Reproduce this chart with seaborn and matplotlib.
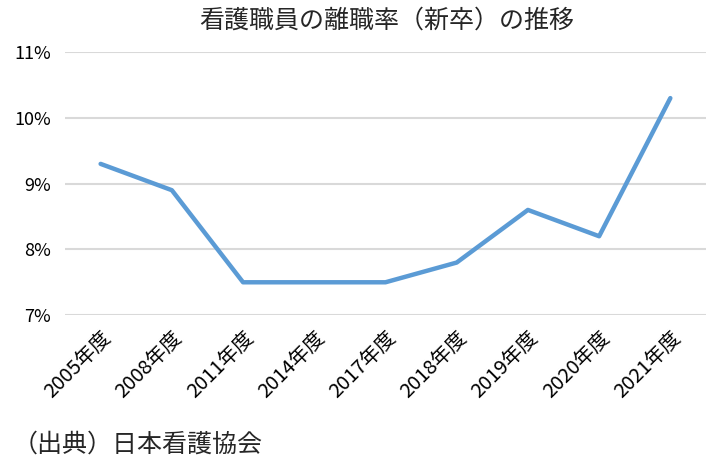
import matplotlib
matplotlib.use("Agg")
import matplotlib.pyplot as plt
import seaborn as sns
import pandas as pd

years = ["2005年度", "2008年度", "2011年度", "2014年度", "2017年度",
         "2018年度", "2019年度", "2020年度", "2021年度"]
rates = [9.3, 8.9, 7.5, 7.5, 7.5, 7.8, 8.6, 8.2, 10.3]
y_ticks = [7, 8, 9, 10, 11]
y_labels = ["7%", "8%", "9%", "10%", "11%"]

sns.set_theme(style="white")
plt.rcParams['font.family'] = ['Noto Sans CJK JP', 'DejaVu Sans']

df = pd.DataFrame({"year": years, "rate": rates})
fig = plt.figure(figsize=(7.09, 4.69), dpi=100)
ax = fig.add_axes([0.0917, 0.328, 0.904, 0.561])

sns.lineplot(data=df, x="year", y="rate", ax=ax, color="#5B9BD5",
             linewidth=3.2, sort=False)

ax.set_xlim(-0.5, len(years) - 0.5)
ax.set_ylim(7, 11)
ax.set_yticks(y_ticks)
ax.set_yticklabels(y_labels, fontsize=13)
ax.set_xticks(range(len(years)))
ax.set_xticklabels(years, fontsize=14.5, rotation=45, ha="right",
                   rotation_mode="anchor")
ax.tick_params(axis="x", length=0, pad=9, colors="black")
ax.tick_params(axis="y", length=0, pad=10, colors="black")
ax.yaxis.grid(True, color="#D9D9D9", linewidth=1.5)
ax.set_axisbelow(True)
for s in ax.spines.values():
    s.set_visible(False)
ax.set_xlabel("")
ax.set_ylabel("")

fig.text(0.545, 0.957, "看護職員の離職率（新卒）の推移", ha="center",
         va="center", fontsize=18)
fig.text(0.018, 0.053, "（出典）日本看護協会", ha="left", va="center",
         fontsize=18)

fig.savefig("out.png", dpi=100)
